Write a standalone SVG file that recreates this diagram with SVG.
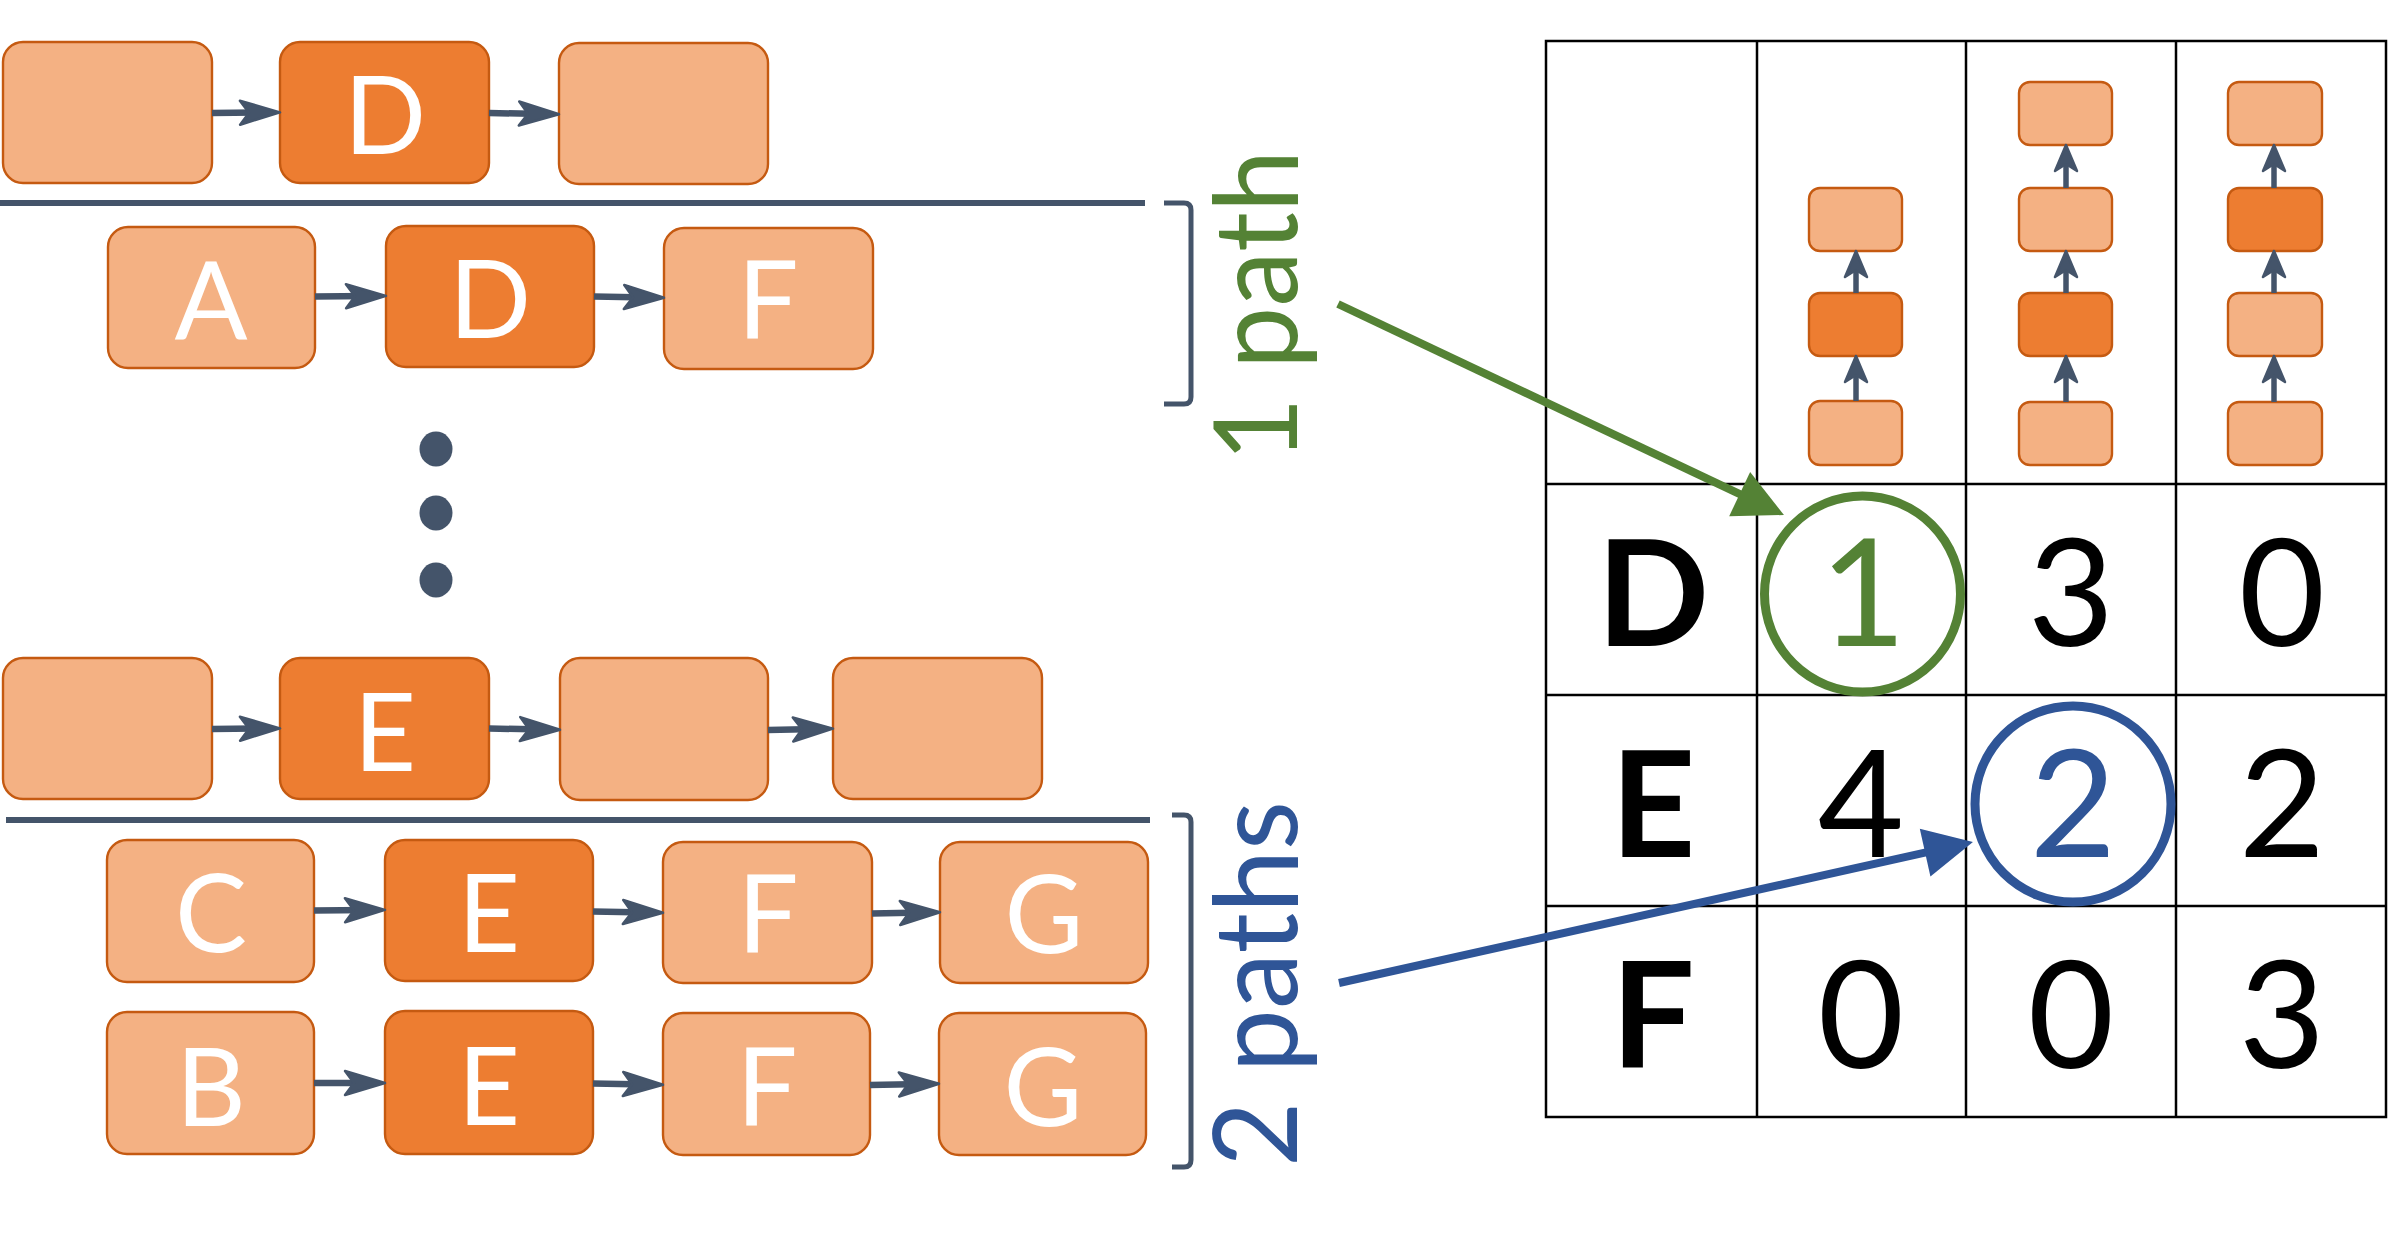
<svg xmlns="http://www.w3.org/2000/svg" width="2389" height="1245" viewBox="0 0 2389 1245">
<style>
.lt{fill:#F4B183;stroke:#C55A11;stroke-width:2.4}
.dk{fill:#ED7D31;stroke:#C55A11;stroke-width:2.4}
.lbl{font-family:Lato,"Liberation Sans",sans-serif;font-size:108px;fill:#FFFFFF;text-anchor:middle}
.num{font-family:Lato,"Liberation Sans",sans-serif;font-size:149px;fill:#000000;text-anchor:middle}
.hdr{font-family:Lato,"Liberation Sans",sans-serif;font-size:148px;font-weight:bold;fill:#000000;text-anchor:middle}
.side{font-family:Lato,"Liberation Sans",sans-serif;font-size:116px}
.con{stroke:#44546A;stroke-width:6.5;fill:none}
.vcon{stroke:#44546A;stroke-width:5.5;fill:none}
.grid{stroke:#000000;stroke-width:2.5;fill:none}
.slate{stroke:#44546A;stroke-width:6;fill:none}
</style>
<defs>
<marker id="arrH" markerUnits="userSpaceOnUse" viewBox="-30 -15 50 30" markerWidth="50" markerHeight="30" refX="0" refY="0" orient="auto">
<path d="M16,0 L-24,-12 L-15,0 L-24,12 Z" fill="#44546A" stroke="#44546A" stroke-width="2.5" stroke-linejoin="round"/>
</marker>
<marker id="arrV" markerUnits="userSpaceOnUse" viewBox="-20 -15 40 30" markerWidth="40" markerHeight="30" refX="0" refY="0" orient="auto">
<path d="M13,0 L-13,-11 L-6,0 L-13,11 Z" fill="#44546A" stroke="#44546A" stroke-width="2.5" stroke-linejoin="round"/>
</marker>
<marker id="arrG" markerUnits="userSpaceOnUse" viewBox="-15 -30 60 60" markerWidth="60" markerHeight="60" refX="0" refY="0" orient="auto">
<path d="M40,0 L-9,-24.5 L-9,24.5 Z" fill="#548235"/>
</marker>
<marker id="arrB" markerUnits="userSpaceOnUse" viewBox="-15 -30 60 60" markerWidth="60" markerHeight="60" refX="0" refY="0" orient="auto">
<path d="M40,0 L-9,-24.5 L-9,24.5 Z" fill="#2F5597"/>
</marker>
</defs>
<rect width="2389" height="1245" fill="#FFFFFF"/>

<!-- separators, brackets, dots -->
<g id="decor">
<line class="slate" x1="0" y1="203" x2="1145" y2="203"/>
<line class="slate" x1="6" y1="820" x2="1150" y2="820"/>
<path class="slate" style="stroke-width:5" d="M1164,203 L1184,203 Q1191,203 1191,210 L1191,397 Q1191,404 1184,404 L1164,404"/>
<path class="slate" style="stroke-width:5" d="M1172,815 L1184,815 Q1191,815 1191,822 L1191,1160 Q1191,1167 1184,1167 L1172,1167"/>
<ellipse cx="436" cy="449" rx="16.5" ry="17.5" fill="#44546A"/>
<ellipse cx="436" cy="513" rx="16.5" ry="17.5" fill="#44546A"/>
<ellipse cx="436" cy="580" rx="16.5" ry="17.5" fill="#44546A"/>
<text class="side" fill="#548235" transform="translate(1297,462) rotate(-90)" textLength="312" lengthAdjust="spacingAndGlyphs">1 path</text>
<text class="side" fill="#2F5597" transform="translate(1297,1167) rotate(-90)" textLength="366" lengthAdjust="spacingAndGlyphs">2 paths</text>
</g>

<!-- table -->
<g id="table">
<rect class="grid" x="1546" y="41" width="840" height="1076"/>
<line class="grid" x1="1757" y1="41" x2="1757" y2="1117"/>
<line class="grid" x1="1966" y1="41" x2="1966" y2="1117"/>
<line class="grid" x1="2176" y1="41" x2="2176" y2="1117"/>
<line class="grid" x1="1546" y1="484" x2="2386" y2="484"/>
<line class="grid" x1="1546" y1="695" x2="2386" y2="695"/>
<line class="grid" x1="1546" y1="906" x2="2386" y2="906"/>
<text class="hdr" x="1653" y="646">D</text>
<text class="hdr" x="1653" y="857">E</text>
<text class="hdr" x="1653" y="1068">F</text>
<text class="num" x="1863" y="646" style="fill:#548235">1</text>
<text class="num" x="2071" y="646">3</text>
<text class="num" x="2282" y="646">0</text>
<text class="num" x="1861" y="857">4</text>
<text class="num" x="2073" y="857" style="fill:#2F5597">2</text>
<text class="num" x="2282" y="857">2</text>
<text class="num" x="1861" y="1068">0</text>
<text class="num" x="2071" y="1068">0</text>
<text class="num" x="2282" y="1068">3</text>
<circle cx="1862.5" cy="594" r="98" fill="none" stroke="#548235" stroke-width="9"/>
<circle cx="2073" cy="804" r="98" fill="none" stroke="#2F5597" stroke-width="9"/>
</g>

<!-- left nodes -->
<g id="r1n1"><rect class="lt" x="3" y="42" width="209" height="141" rx="20"/></g>
<g id="r1n2"><rect class="dk" x="280" y="42" width="209" height="141" rx="20"/><text class="lbl" x="385" y="154">D</text></g>
<g id="r1n3"><rect class="lt" x="559" y="43" width="209" height="141" rx="20"/></g>

<g id="r2n1"><rect class="lt" x="108" y="227" width="207" height="141" rx="20"/><text class="lbl" x="211" y="339">A</text></g>
<g id="r2n2"><rect class="dk" x="386" y="226" width="208" height="141" rx="20"/><text class="lbl" x="490" y="338">D</text></g>
<g id="r2n3"><rect class="lt" x="664" y="228" width="209" height="141" rx="20"/><text class="lbl" x="768" y="339">F</text></g>

<g id="r3n1"><rect class="lt" x="3" y="658" width="209" height="141" rx="20"/></g>
<g id="r3n2"><rect class="dk" x="280" y="658" width="209" height="141" rx="20"/><text class="lbl" x="385" y="771">E</text></g>
<g id="r3n3"><rect class="lt" x="560" y="658" width="208" height="142" rx="20"/></g>
<g id="r3n4"><rect class="lt" x="833" y="658" width="209" height="141" rx="20"/></g>

<g id="r4n1"><rect class="lt" x="107" y="840" width="207" height="142" rx="20"/><text class="lbl" x="211" y="952">C</text></g>
<g id="r4n2"><rect class="dk" x="385" y="840" width="208" height="141" rx="20"/><text class="lbl" x="489" y="952">E</text></g>
<g id="r4n3"><rect class="lt" x="663" y="842" width="209" height="141" rx="20"/><text class="lbl" x="768" y="953">F</text></g>
<g id="r4n4"><rect class="lt" x="940" y="842" width="208" height="141" rx="20"/><text class="lbl" x="1044" y="953">G</text></g>

<g id="r5n1"><rect class="lt" x="107" y="1012" width="207" height="142" rx="20"/><text class="lbl" x="211" y="1126">B</text></g>
<g id="r5n2"><rect class="dk" x="385" y="1011" width="208" height="143" rx="20"/><text class="lbl" x="489" y="1125">E</text></g>
<g id="r5n3"><rect class="lt" x="663" y="1013" width="207" height="142" rx="20"/><text class="lbl" x="767" y="1126">F</text></g>
<g id="r5n4"><rect class="lt" x="939" y="1013" width="207" height="142" rx="20"/><text class="lbl" x="1043" y="1126">G</text></g>

<!-- table header mini nodes -->
<g id="c2n1"><rect class="lt" x="1809" y="401" width="93" height="64" rx="11"/></g>
<g id="c2n2"><rect class="dk" x="1809" y="293" width="93" height="63" rx="11"/></g>
<g id="c2n3"><rect class="lt" x="1809" y="188" width="93" height="63" rx="11"/></g>

<g id="c3n1"><rect class="lt" x="2019" y="402" width="93" height="63" rx="11"/></g>
<g id="c3n2"><rect class="dk" x="2019" y="293" width="93" height="63" rx="11"/></g>
<g id="c3n3"><rect class="lt" x="2019" y="188" width="93" height="63" rx="11"/></g>
<g id="c3n4"><rect class="lt" x="2019" y="82" width="93" height="63" rx="11"/></g>

<g id="c4n1"><rect class="lt" x="2228" y="402" width="94" height="63" rx="11"/></g>
<g id="c4n2"><rect class="lt" x="2228" y="293" width="94" height="63" rx="11"/></g>
<g id="c4n3"><rect class="dk" x="2228" y="188" width="94" height="63" rx="11"/></g>
<g id="c4n4"><rect class="lt" x="2228" y="82" width="94" height="63" rx="11"/></g>

<!-- connectors -->
<g id="connectors">
<path class="con" d="M212,113 L264,112.5" marker-end="url(#arrH)"/>
<path class="con" d="M489,113 L543,114" marker-end="url(#arrH)"/>
<path class="con" d="M315,296.5 L370,296" marker-end="url(#arrH)"/>
<path class="con" d="M594,296.5 L648,297.5" marker-end="url(#arrH)"/>
<path class="con" d="M212,729 L264,728.5" marker-end="url(#arrH)"/>
<path class="con" d="M489,728.5 L544,729.5" marker-end="url(#arrH)"/>
<path class="con" d="M768,730 L817,729" marker-end="url(#arrH)"/>
<path class="con" d="M314,910.5 L369,910" marker-end="url(#arrH)"/>
<path class="con" d="M593,911.5 L647,912.5" marker-end="url(#arrH)"/>
<path class="con" d="M872,913.5 L924,912.5" marker-end="url(#arrH)"/>
<path class="con" d="M314,1083 L369,1083" marker-end="url(#arrH)"/>
<path class="con" d="M593,1083.5 L647,1084.5" marker-end="url(#arrH)"/>
<path class="con" d="M870,1085 L923,1084" marker-end="url(#arrH)"/>

<path class="vcon" d="M1856,401 L1856,369" marker-end="url(#arrV)"/>
<path class="vcon" d="M1856,293 L1856,264" marker-end="url(#arrV)"/>
<path class="vcon" d="M2066,402 L2066,369" marker-end="url(#arrV)"/>
<path class="vcon" d="M2066,293 L2066,264" marker-end="url(#arrV)"/>
<path class="vcon" d="M2066,188 L2066,158" marker-end="url(#arrV)"/>
<path class="vcon" d="M2274,402 L2274,369" marker-end="url(#arrV)"/>
<path class="vcon" d="M2274,293 L2274,264" marker-end="url(#arrV)"/>
<path class="vcon" d="M2274,188 L2274,158" marker-end="url(#arrV)"/>

<path d="M1338,304 L1747.8,497.9" stroke="#548235" stroke-width="8" fill="none" marker-end="url(#arrG)"/>
<path d="M1339,983 L1933.9,850.7" stroke="#2F5597" stroke-width="8" fill="none" marker-end="url(#arrB)"/>
</g>
</svg>
